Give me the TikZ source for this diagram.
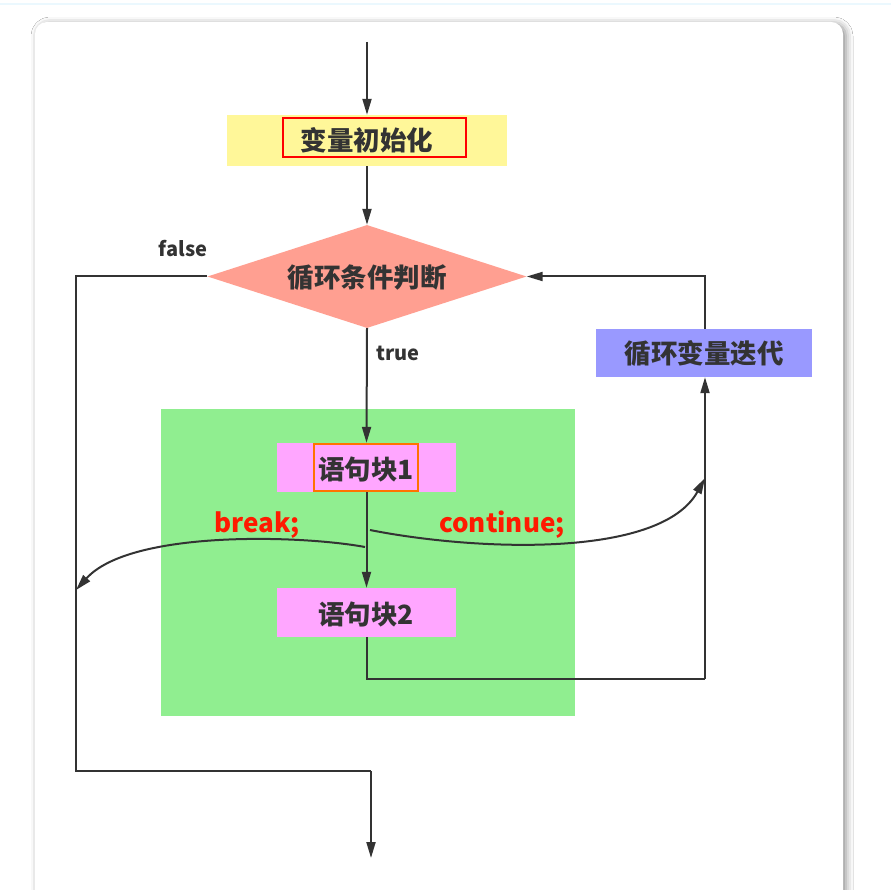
\documentclass[tikz,border=0pt]{standalone}
\usepackage{fontspec}
\setmainfont{Noto Sans CJK SC}
\usetikzlibrary{arrows.meta,shapes.geometric,shadows.blur}
\definecolor{txt}{HTML}{333333}
\definecolor{yel}{HTML}{FFF799}
\definecolor{sal}{HTML}{FF9F91}
\definecolor{grn}{HTML}{90EE90}
\definecolor{pnk}{HTML}{FFA6FF}
\definecolor{blu}{HTML}{9999FF}
\definecolor{redt}{HTML}{FF1A00}
\tikzset{
  conn/.style={draw=txt, line width=2pt, -{Triangle[length=16pt,width=9pt]}},
  line/.style={draw=txt, line width=2pt},
  boxlabel/.style={font=\fontsize{26.5}{26.5}\selectfont\bfseries, text=txt, inner sep=0pt},
  small/.style={font=\fontsize{20}{20}\selectfont\bfseries, text=txt, inner sep=0pt},
  redlabel/.style={font=\fontsize{26}{26}\selectfont\bfseries, text=redt, inner sep=0pt},
}
\begin{document}
\begin{tikzpicture}[x=1pt,y=-1pt]
\useasboundingbox (0,0) rectangle (891,890);
\fill[white] (0,0) rectangle (891,890);
\draw[color=cyan!8, line width=2pt] (0,4) -- (891,4);
% card
\fill[white, rounded corners=12pt, blur shadow={shadow xshift=3pt, shadow yshift=-2pt, shadow blur radius=7pt, shadow opacity=45}] (35,22) rectangle (843,920);
% green area
\fill[grn] (161,409) rectangle (575,716);
% nodes
\node[fill=yel, minimum width=280pt, minimum height=51pt, inner sep=0pt] (init) at (367,140.5) {};
\node[draw=red, line width=1.6pt, minimum width=183pt, minimum height=39pt, inner sep=0pt] (initin) at (374.5,137.5) {};
\node[boxlabel] (initt) at (367,140) {变量初始化};
\node[diamond, fill=sal, minimum width=319pt, minimum height=103pt, inner sep=0pt, aspect=3.1] (cond) at (367,276.5) {};
\node[boxlabel] (condt) at (367,278) {循环条件判断};
\node[fill=blu, minimum width=216pt, minimum height=48pt, inner sep=0pt] (iter) at (704,353) {};
\node[boxlabel] (itert) at (704,354) {循环变量迭代};
\node[fill=pnk, minimum width=179pt, minimum height=49pt, inner sep=0pt] (b1) at (366.5,467.5) {};
\node[draw=orange!90!red, line width=1.6pt, minimum width=104pt, minimum height=47pt, inner sep=0pt] (b1in) at (366,467.5) {};
\node[boxlabel] (b1t) at (366,469) {语句块1};
\node[fill=pnk, minimum width=179pt, minimum height=49pt, inner sep=0pt] (b2) at (366.5,612.5) {};
\node[boxlabel] (b2t) at (366,614) {语句块2};
% labels
\node[small] (fl) at (183,249) {false};
\node[small] (tr) at (398,353) {true};
\node[redlabel] (brk) at (257,525) {break;};
\node[redlabel] (cnt) at (502,525) {continue;};
% coordinates
\coordinate (start) at (367,42);
\coordinate (exit) at (371,858);
\coordinate (fcorner) at (76,771);
\coordinate (brkend) at (76,590);
\coordinate (cntend) at (705,478);
\coordinate (brkstart) at (365,547);
\coordinate (cntstart) at (370,530);
% connectors
\draw[conn] (start) -- (init.north);
\draw[conn] (init.south) -- (cond.north);
\draw[conn] (cond.south) -- (b1.north);
\draw[conn] (b1.south) -- (b2.north);
\draw[line] (cond.west) -- (76,276.5) -- (fcorner) -- (371,771);
\draw[conn] (371,771) -- (exit);
\draw[line] (b2.south) -- (366.5,679) -- (705,679);
\draw[conn] (705,679) -- (iter.south -| 705,0);
\draw[conn] (iter.north -| 705,0) -- (705,276.5) -- (cond.east);
\draw[conn] (brkstart) .. controls (300,535) and (130,530) .. (brkend);
\draw[conn] (cntstart) .. controls (470,550) and (660,560) .. (cntend);
\end{tikzpicture}
\end{document}
